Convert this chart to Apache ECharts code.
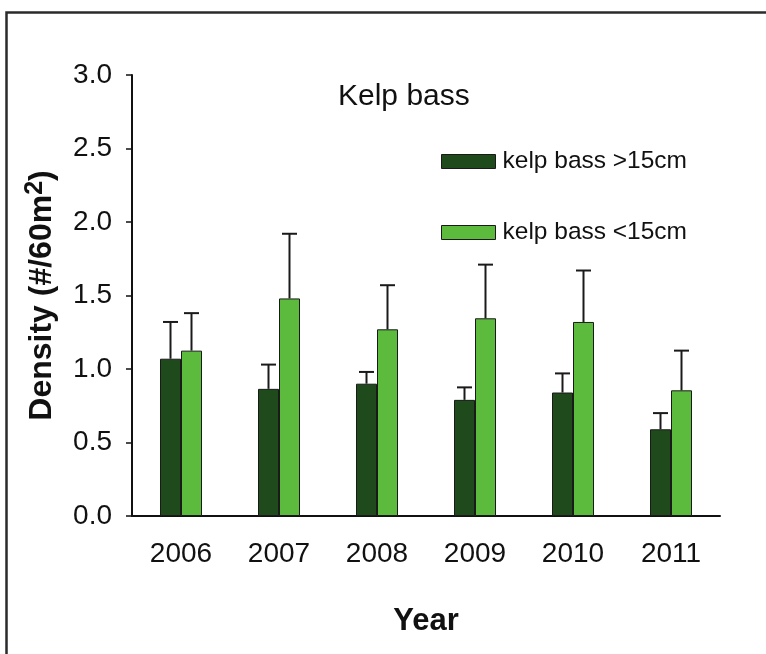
<!DOCTYPE html>
<html>
<head>
<meta charset="utf-8">
<script src="https://cdn.jsdelivr.net/npm/echarts@6/dist/echarts.min.js"></script>
<style>
html,body{margin:0;padding:0;background:#fff;}
#chart{width:766px;height:654px;}
</style>
</head>
<body>
<div id="chart"></div>
<script>
var years = ['2006', '2007', '2008', '2009', '2010', '2011'];
var largeName = 'kelp bass >15cm';
var smallName = 'kelp bass <15cm';
var largeMean = [1.07, 0.865, 0.90, 0.79, 0.84, 0.59];
var largeUpper = [1.32, 1.03, 0.98, 0.875, 0.97, 0.70];
var smallMean = [1.125, 1.48, 1.27, 1.345, 1.32, 0.855];
var smallUpper = [1.38, 1.92, 1.57, 1.71, 1.67, 1.125];
var yTicks = [0, 0.5, 1.0, 1.5, 2.0, 2.5, 3.0];

var FONT = '"Liberation Sans", Arial, sans-serif';
var BAR_W = 21;
var DARK = '#1e4a1c';
var LIGHT = '#5cba3c';

function errData(upper, mean) {
  return upper.map(function (u, i) { return [i, mean[i], u]; });
}

function errRender(sign) {
  return function (params, api) {
    var i = api.value(0);
    var top = api.coord([i, api.value(2)]);
    var base = api.coord([i, api.value(1)]);
    var x = top[0] + sign * BAR_W / 2;
    var cap = 7.5;
    var st = { stroke: '#1a1a1a', lineWidth: 2 };
    return {
      type: 'group',
      children: [
        { type: 'line', shape: { x1: x, y1: base[1], x2: x, y2: top[1] }, style: st },
        { type: 'line', shape: { x1: x - cap, y1: top[1], x2: x + cap, y2: top[1] }, style: st }
      ]
    };
  };
}

var chart = echarts.init(document.getElementById('chart'), null, { renderer: 'canvas' });
chart.setOption({
  backgroundColor: '#ffffff',
  animation: false,
  textStyle: { fontFamily: FONT },
  graphic: [{
    type: 'rect', left: 4, top: 10, z: 100, silent: true,
    shape: { width: 800, height: 700 },
    style: { fill: 'none', stroke: '#2b2b2b', lineWidth: 2.5 }
  }],
  title: {
    text: 'Kelp bass', left: 333, top: 77,
    textStyle: { fontFamily: FONT, fontSize: 30, fontWeight: 'normal', color: '#111' }
  },
  legend: {
    orient: 'vertical', left: 436, top: 144, itemWidth: 54, itemHeight: 14, itemGap: 46,
    icon: 'rect',
    data: [largeName, smallName],
    itemStyle: { borderColor: '#1a1a1a', borderWidth: 1 },
    textStyle: { fontFamily: FONT, fontSize: 24.5, color: '#111', padding: [0, 0, 0, 2] }
  },
  grid: { left: 132, right: 46, top: 75, bottom: 138, containLabel: false },
  xAxis: {
    type: 'category', data: years,
    name: 'Year', nameLocation: 'middle', nameGap: 90,
    nameTextStyle: { fontFamily: FONT, fontSize: 31, fontWeight: 'bold', color: '#111' },
    axisLine: { lineStyle: { color: '#111', width: 2 } },
    axisTick: { alignWithLabel: true, length: 6, lineStyle: { color: '#111', width: 1.5 } },
    axisLabel: { margin: 24, fontFamily: FONT, fontSize: 28, color: '#111' }
  },
  yAxis: {
    type: 'value', min: 0, max: 3, interval: 0.5,
    name: 'Density (#/60m{sup|2})', nameLocation: 'middle', nameGap: 70, nameRotate: 90,
    nameTextStyle: {
      fontFamily: FONT, fontSize: 32, fontWeight: 'bold', color: '#111',
      rich: { sup: { fontFamily: FONT, fontSize: 25, fontWeight: 'bold', color: '#111', verticalAlign: 'top', padding: [0, 0, 14, 0] } }
    },
    axisLine: { show: true, lineStyle: { color: '#111', width: 2 } },
    axisTick: { show: true, length: 6, lineStyle: { color: '#111', width: 1.5 } },
    splitLine: { show: false },
    axisLabel: {
      margin: 20, fontFamily: FONT, fontSize: 28, color: '#111',
      formatter: function (v) { return yTicks.indexOf(v) >= 0 ? v.toFixed(1) : ''; }
    }
  },
  series: [
    {
      name: largeName, type: 'bar', data: largeMean, barWidth: BAR_W, barGap: '0%',
      itemStyle: { color: DARK, borderColor: '#1a1a1a', borderWidth: 1 }
    },
    {
      name: smallName, type: 'bar', data: smallMean, barWidth: BAR_W, barGap: '0%',
      itemStyle: { color: LIGHT, borderColor: '#1a1a1a', borderWidth: 1 }
    },
    {
      type: 'custom', renderItem: errRender(-1), data: errData(largeUpper, largeMean),
      encode: { x: 0, y: 2 }, z: 5, silent: true
    },
    {
      type: 'custom', renderItem: errRender(1), data: errData(smallUpper, smallMean),
      encode: { x: 0, y: 2 }, z: 5, silent: true
    }
  ]
});
</script>
</body>
</html>
